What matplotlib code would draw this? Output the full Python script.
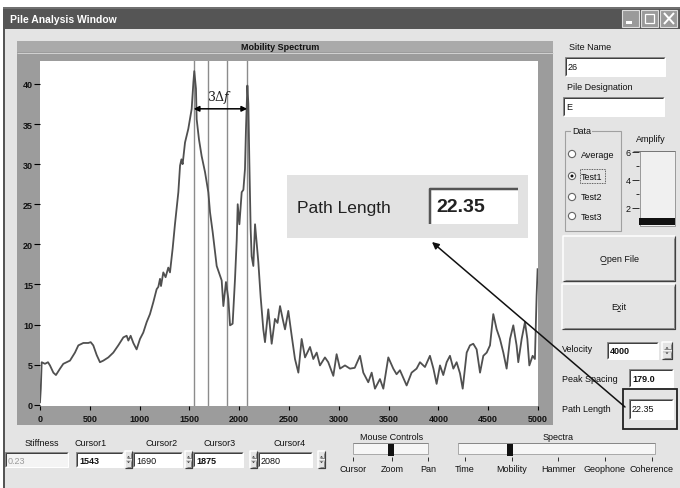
import matplotlib
matplotlib.use('Agg')
import matplotlib.pyplot as plt
from matplotlib.patches import Rectangle, Circle, Polygon

# ---------------- data ----------------
freq = [0, 8, 17, 50, 80, 100, 134, 160, 201, 234, 268, 301, 351, 385, 435, 485, 509, 535,
        569, 602, 636, 686, 736, 786, 837, 870, 887, 910, 937, 970, 1004, 1037, 1071, 1104,
        1138, 1171, 1188, 1205, 1215, 1238, 1261, 1288, 1305, 1332, 1355, 1372, 1389, 1406,
        1420, 1432, 1456, 1489, 1523, 1540, 1549, 1566, 1573, 1596, 1623, 1657, 1690, 1707,
        1734, 1774, 1824, 1841, 1867, 1891, 1908, 1934, 1958, 1975, 1985, 2002, 2025, 2042,
        2058, 2068, 2082, 2092, 2102, 2115, 2125, 2142, 2159, 2169, 2192, 2215, 2242, 2259,
        2292, 2326, 2359, 2385, 2410, 2440, 2460, 2493, 2527, 2560, 2594, 2627, 2661, 2711,
        2744, 2778, 2811, 2861, 2894, 2945, 2978, 3012, 3062, 3112, 3160, 3213, 3246, 3296,
        3330, 3363, 3413, 3447, 3497, 3547, 3580, 3614, 3681, 3731, 3781, 3815, 3865, 3915,
        3950, 3982, 4016, 4049, 4083, 4116, 4150, 4183, 4217, 4244, 4284, 4317, 4350, 4384,
        4418, 4451, 4485, 4518, 4551, 4585, 4618, 4652, 4685, 4719, 4752, 4785, 4802, 4836,
        4869, 4893, 4913, 4946, 4969, 4986, 4996]
mobility = [0.3, 2.0, 5.3, 5.1, 5.3, 4.9, 4.0, 3.7, 4.5, 5.1, 5.3, 5.5, 6.5, 7.4, 7.7, 7.7, 7.8, 7.4,
            6.2, 5.3, 5.5, 5.9, 6.5, 7.4, 8.4, 8.6, 8.0, 8.6, 7.7, 6.9, 8.2, 9.0, 10.3, 11.3,
            12.8, 14.4, 14.7, 15.7, 14.8, 16.5, 15.9, 17.1, 16.5, 19.5, 22.5, 24.5, 26.5, 29.8,
            30.6, 30.0, 32.7, 34.4, 36.9, 40.2, 41.6, 39.4, 35.6, 33.1, 31.0, 29.0, 26.5, 24.0,
            21.5, 17.3, 15.5, 12.3, 15.3, 13.2, 9.9, 10.1, 15.7, 20.5, 25.0, 22.5, 26.5, 26.8,
            29.4, 34.4, 39.8, 37.5, 30.2, 21.9, 18.5, 17.3, 22.5, 21.1, 17.8, 13.5, 9.4, 7.8,
            11.9, 7.6, 10.7, 10.2, 12.3, 10.5, 9.4, 11.7, 8.6, 5.7, 4.0, 8.2, 5.9, 7.2,
            5.7, 6.5, 4.9, 5.9, 5.3, 3.6, 6.3, 4.5, 4.9, 4.5, 4.6, 6.1, 4.0, 2.8,
            4.0, 2.0, 3.2, 2.0, 5.9, 4.5, 3.8, 4.3, 2.4, 4.0, 4.5, 5.3, 4.7, 6.1,
            4.5, 2.6, 4.9, 3.7, 5.3, 6.1, 4.5, 5.3, 3.9, 2.0, 6.5, 7.4, 7.6, 6.9,
            4.0, 6.1, 6.5, 7.4, 11.3, 9.4, 8.2, 6.5, 4.5, 8.2, 9.9, 7.4, 5.3, 8.2,
            10.3, 8.2, 4.9, 6.1, 5.7, 13.6, 16.9]
assert len(freq) == len(mobility), (len(freq), len(mobility))

cursor_names = ["Cursor1", "Cursor2", "Cursor3", "Cursor4"]
cursor_values = [1543, 1690, 1875, 2080]
x_ticks = list(range(0, 5001, 500))
y_ticks = list(range(0, 41, 5))
spectra_options = ["Time", "Mobility", "Hammer", "Geophone", "Coherence"]
mouse_options = ["Cursor", "Zoom", "Pan"]
data_options = ["Average", "Test1", "Test2", "Test3"]
site_name = "26"
pile_designation = "E"
stiffness = "0.23"
velocity = "4000"
peak_spacing = "179.0"
path_length = "22.35"

# ---------------- figure ----------------
W, H = 680, 489
plt.rcParams['font.family'] = ['Liberation Sans', 'DejaVu Sans']
fig = plt.figure(figsize=(W / 100, H / 100), dpi=100)
fig.patch.set_facecolor('white')

bg = fig.add_axes([0, 0, 1, 1], zorder=0)
bg.set_xlim(0, W); bg.set_ylim(H, 0); bg.axis('off')
fg = fig.add_axes([0, 0, 1, 1], zorder=10)
fg.set_xlim(0, W); fg.set_ylim(H, 0); fg.axis('off')
fg.patch.set_alpha(0)

PX = 0.72  # one pixel in points
BODY = '#e4e4e4'
DARK = '#404040'
MID = '#8a8a8a'


def rect(a, x0, y0, x1, y1, fc, ec='none', lw=0, z=1, ls='-'):
    a.add_patch(Rectangle((x0, y0), x1 - x0, y1 - y0, facecolor=fc, edgecolor=ec,
                          lw=lw, zorder=z, linestyle=ls))


def line(a, xs, ys, c, lw=1.0, z=2):
    a.plot(xs, ys, color=c, lw=lw * PX, zorder=z, solid_capstyle='butt')


def sunken(a, x0, y0, x1, y1, fc='white', z=2, thick=1):
    rect(a, x0, y0, x1, y1, fc, z=z)
    line(a, [x0, x0, x1], [y1, y0, y0], MID, 1, z + 0.1)
    line(a, [x0 + 1, x0 + 1, x1 - 1], [y1 - 1, y0 + 1, y0 + 1], DARK, thick, z + 0.1)
    line(a, [x0, x1, x1], [y1, y1, y0], 'white', 1, z + 0.1)


def raised(a, x0, y0, x1, y1, fc=BODY, z=2):
    rect(a, x0, y0, x1, y1, fc, z=z)
    line(a, [x0, x0, x1], [y1, y0, y0], 'white', 1.5, z + 0.1)
    line(a, [x0, x1, x1], [y1, y1, y0], DARK, 1.2, z + 0.1)
    line(a, [x0 + 1.5, x1 - 1.5, x1 - 1.5], [y1 - 1.5, y1 - 1.5, y0 + 1.5], MID, 1, z + 0.1)


def txt(a, x, y, s, size=6.5, z=3, **kw):
    kw.setdefault('va', 'center')
    kw.setdefault('color', '#111111')
    a.text(x, y, s, fontsize=size, zorder=z, **kw)


def spinner(a, x0, y0, x1, y1):
    ym = (y0 + y1) / 2
    raised(a, x0, y0, x1, ym)
    raised(a, x0, ym, x1, y1)
    xc = (x0 + x1) / 2
    a.add_patch(Polygon([[xc - 1.5, ym - 2], [xc + 1.5, ym - 2], [xc, ym - 3.5]],
                        closed=True, fc='#222', ec='none', zorder=3))
    a.add_patch(Polygon([[xc - 1.5, ym + 2], [xc + 1.5, ym + 2], [xc, ym + 3.5]],
                        closed=True, fc='#222', ec='none', zorder=3))


# window
rect(bg, 3, 8, W, H, BODY, z=0.5)
line(bg, [4, 4], [8, H], '#555555', 2, 0.6)
rect(bg, 3, 8, W, 30, '#555555', z=0.7)
line(bg, [3, W], [9, 9], '#7a7a7a', 1.5, 0.8)
txt(bg, 10, 20, "Pile Analysis Window", size=7.5, color='white', weight='bold')
for bx in [622, 641, 660]:
    rect(bg, bx, 11, bx + 17, 28, '#9a9a9a', ec='#dddddd', lw=0.8, z=1)
rect(bg, 626, 22, 632, 25, 'white', z=1.5)
rect(bg, 645, 15, 654, 24, 'none', ec='white', lw=0.9, z=1.5)
line(bg, [664, 674], [14, 25], 'white', 2, 1.5)
line(bg, [664, 674], [25, 14], 'white', 2, 1.5)

# plot frame
rect(bg, 17, 42, 553, 426, '#9c9c9c', z=1)
rect(bg, 17, 42, 553, 53, '#aaaaaa', z=1.1)
line(bg, [17, 553], [53.5, 53.5], '#d0d0d0', 1, 1.2)
txt(bg, 280, 47.5, "Mobility Spectrum", size=6.5, ha='center', weight='bold')

# ---------------- chart ----------------
top_px, bot_px = 61.7, 407.0
ax = fig.add_axes([40 / W, 1 - bot_px / H, 498 / W, (bot_px - top_px) / H], zorder=5)
ax.set_facecolor('white')
ax.plot(freq, mobility, color='#505050', lw=1.3)
for cv in cursor_values:
    ax.axvline(cv, color='#8c8c8c', lw=1.0, zorder=1)
ax.set_xlim(0, 5000)
ax.set_ylim(-0.16, 42.9)
ax.set_xticks(x_ticks)
ax.set_yticks(y_ticks)
for s in ax.spines.values():
    s.set_visible(False)
ax.tick_params(axis='y', direction='out', length=4, width=0.8, pad=1, labelsize=6.5)
ax.tick_params(axis='x', direction='out', length=3, width=0.8, pad=2.5, labelsize=6.5)
for lab in ax.get_xticklabels() + ax.get_yticklabels():
    lab.set_fontweight('bold')
    lab.set_color('#111111')

ax.annotate('', xy=(cursor_values[0], 36.9), xytext=(cursor_values[3], 36.9),
            arrowprops=dict(arrowstyle='<|-|>', color='black', lw=1.1,
                            mutation_scale=8, shrinkA=0, shrinkB=0))
ax.text(1807, 38.4, r'3$\Delta f$', fontsize=9, ha='center', va='center',
        family='DejaVu Serif', math_fontfamily='dejavuserif', color='#222')

# ---------------- right panel ----------------
txt(bg, 569, 48, "Site Name")
sunken(bg, 565, 58, 665, 77)
txt(bg, 568, 67.5, site_name)
txt(bg, 567, 88, "Pile Designation")
sunken(bg, 563, 98, 664, 117)
txt(bg, 566, 108, pile_designation)

rect(bg, 565, 132, 621, 232, 'none', ec='#a0a0a0', lw=0.8, z=1.5)
txt(bg, 572, 132, "Data", bbox=dict(fc=BODY, ec='none', pad=0.6))
radio_y = [155, 177, 198, 217]
for name, ry in zip(data_options, radio_y):
    bg.add_patch(Circle((572, ry), 3.6, fc='white', ec='#666', lw=0.8, zorder=3))
    txt(bg, 581, ry, name)
bg.add_patch(Circle((572, radio_y[1]), 1.5, fc='#111', ec='none', zorder=4))
rect(bg, 580, 170, 605, 184, 'none', ec='#333', lw=0.6, z=3, ls=(0, (1, 1)))

txt(bg, 651, 139, "Amplify", ha='center')
rect(bg, 640, 152, 675, 227, '#f0f0f0', ec='#999', lw=0.7, z=2)
line(bg, [633, 675], [152, 152], '#777', 1, 2.5)
for lab, yy in [("6", 153), ("4", 181), ("2", 209)]:
    txt(bg, 628, yy, lab, ha='center')
    line(bg, [632, 639], [yy, yy], '#333', 1, 3)
for yy in [167, 195]:
    line(bg, [636, 639], [yy, yy], '#333', 1, 3)
rect(bg, 639, 219, 675, 226, '#111', z=3)

raised(bg, 563, 237, 675, 282)
txt(bg, 619, 260, "Open File", ha='center')
line(bg, [600.5, 605.5], [264.5, 264.5], '#111', 0.8, 3)
raised(bg, 562, 285, 675, 330)
txt(bg, 619, 307, "Exit", ha='center')
line(bg, [616.5, 620], [311.5, 311.5], '#111', 0.8, 3)

txt(bg, 562, 349, "Velocity")
sunken(bg, 607, 343, 658, 360)
txt(bg, 610, 351, velocity, weight='bold')
spinner(bg, 662, 343, 672, 360)
txt(bg, 562, 379, "Peak Spacing")
sunken(bg, 629, 370, 673, 388)
txt(bg, 632, 379, peak_spacing, weight='bold')
txt(bg, 562, 410, "Path Length")
sunken(bg, 629, 400, 673, 420)
txt(bg, 632, 410, path_length)

# ---------------- bottom panel ----------------
label_x = [42, 91, 162, 220, 290]
txt(bg, label_x[0], 443, "Stiffness", ha='center')
sunken(bg, 5, 453, 68, 468, fc='#f4f4f4')
txt(bg, 8, 461, stiffness, color='#9a9a9a')
boxes = [(76, 123, 125, 132), (133, 182, 185, 192), (193, 243, 250, 257), (258, 312, 318, 325)]
for name, val, lx, (b0, b1, s0, s1) in zip(cursor_names, cursor_values, label_x[1:], boxes):
    txt(bg, lx, 443, name, ha='center')
    sunken(bg, b0, 453, b1, 468)
    txt(bg, b0 + 3, 461, str(val), weight='bold' if name in ("Cursor1", "Cursor3") else 'normal')
    spinner(bg, s0, 452, s1, 469)


def slider(a, x0, x1, ticks, thumb_x, labels, title, title_x):
    txt(a, title_x, 437, title, ha='center')
    rect(a, x0, 444, x1, 455, '#f6f6f6', ec='#a8a8a8', lw=0.7, z=2)
    line(a, [x0, x1], [444, 444], '#888', 1, 2.5)
    for tx, lab in zip(ticks, labels):
        line(a, [tx, tx], [458, 462], '#333', 1, 3)
        txt(a, tx, 470, lab, ha='center')
    rect(a, thumb_x - 3, 445, thumb_x + 3, 457, '#111', z=3)


slider(bg, 353, 428, [353, 392, 428], 391, mouse_options, "Mouse Controls", 392)
slider(bg, 458, 655, [465, 512, 558, 605, 652], 510, spectra_options, "Spectra", 558)

# ---------------- overlay callout ----------------
rect(fg, 287, 176, 528, 239, '#e2e2e2', z=1)
rect(fg, 430, 190, 518, 225, 'white', z=2)
line(fg, [430, 430, 518], [225, 190, 190], '#555', 2.5, 2.5)
txt(fg, 297, 209, "Path Length", size=12.5, color='#222')
txt(fg, 436, 208, path_length, size=14, weight='bold', color='#222')
rect(fg, 623, 390, 677, 430, 'none', ec='#222', lw=1.3, z=3)
fg.annotate('', xy=(432, 243), xytext=(625, 408),
            arrowprops=dict(arrowstyle='-|>', color='#111', lw=1.1,
                            mutation_scale=10, shrinkA=0, shrinkB=0), zorder=4)

fig.savefig('out.png', dpi=100, facecolor=fig.get_facecolor())
